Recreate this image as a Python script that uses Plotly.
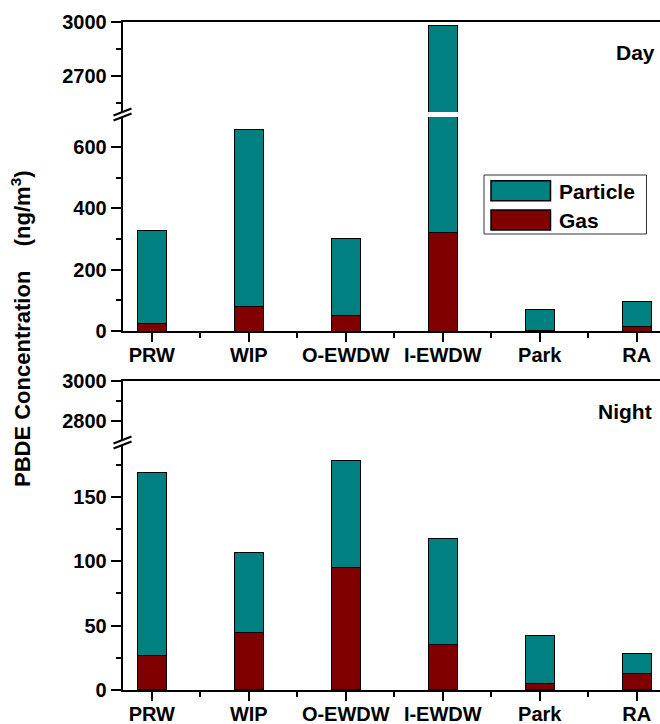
import plotly.graph_objects as go

categories = ["PRW", "WIP", "O-EWDW", "I-EWDW", "Park", "RA"]
day_gas = [23, 80, 49, 320, 2, 14]
day_total = [328, 656, 302, 2980, 69, 96]
night_gas = [27, 44.5, 95, 35.5, 5, 13]
night_total = [169, 107, 178, 118, 42, 28]

day_particle = [t - g for t, g in zip(day_total, day_gas)]
night_particle = [t - g for t, g in zip(night_total, night_gas)]
xi = list(range(len(categories)))

W, H = 660, 724
TEAL = "#008080"
MAROON = "#800000"
FONT = "Liberation Sans, Arial, sans-serif"


def px(x):
    return x / W


def py(y):
    return 1 - y / H


fig = go.Figure()

def add_pair(gas, part, xa, ya):
    fig.add_trace(go.Bar(x=xi, y=gas, xaxis=xa, yaxis=ya, width=0.3, name="Gas",
                         marker=dict(color=MAROON, line=dict(color="black", width=1)),
                         showlegend=False))
    fig.add_trace(go.Bar(x=xi, y=part, xaxis=xa, yaxis=ya, width=0.3, name="Particle",
                         marker=dict(color=TEAL, line=dict(color="black", width=1)),
                         showlegend=False))

add_pair(day_gas, day_particle, "x", "y2")
add_pair(day_gas, day_particle, "x3", "y")
add_pair(night_gas, night_particle, "x2", "y4")
add_pair(night_gas, night_particle, "x4", "y3")

xdom = [px(122.7), 1]
xrange = [-0.3, 5.24]
tickfont = dict(family=FONT, size=20, color="black", weight="bold")

xmain = dict(domain=xdom, range=xrange, tickmode="array", tickvals=xi, ticktext=categories,
             ticks="outside", ticklen=9, tickwidth=2, tickcolor="black", automargin=False,
             showline=True, linewidth=2, linecolor="black", showgrid=False, zeroline=False,
             tickfont=tickfont, ticklabelstandoff=-4,
             minor=dict(tick0=0.5, dtick=1, ticks="outside", ticklen=5, tickwidth=2, tickcolor="black"))
xtop = dict(domain=xdom, range=xrange, side="top", showline=True, linewidth=2, linecolor="black",
            showticklabels=False, ticks="", showgrid=False, zeroline=False, automargin=False)

def yax(dom, rng, dtick, mdtick, anchor):
    return dict(domain=[py(dom[1]), py(dom[0])], range=rng, dtick=dtick, tick0=0,
                ticks="outside", ticklen=10, tickwidth=2, tickcolor="black", automargin=False,
                showline=True, linewidth=2, linecolor="black", showgrid=False, zeroline=False,
                tickfont=tickfont, anchor=anchor,
                minor=dict(dtick=mdtick, tick0=0, ticks="outside", ticklen=5, tickwidth=2,
                           tickcolor="black"))

fig.update_layout(
    width=W, height=H, barmode="stack",
    margin=dict(l=0, r=0, t=0, b=0, pad=0),
    plot_bgcolor="white", paper_bgcolor="white",
    showlegend=False,
    xaxis=dict(xmain, anchor="y2"),
    xaxis2=dict(xmain, anchor="y4"),
    xaxis3=dict(xtop, anchor="y"),
    xaxis4=dict(xtop, anchor="y3"),
    yaxis=yax((22, 112), [2500, 3000], 300, 150, "x3"),
    yaxis2=yax((117, 331), [0, 698], 200, 100, "x"),
    yaxis3=yax((380.7, 439.7), [2705, 3000], 200, 100, "x4"),
    yaxis4=yax((445.3, 690), [0, 190], 50, 25, "x2"),
)

shapes = []
# axis break marks
for yc in (114.5, 442.5):
    for off in (-2.5, 2.5):
        shapes.append(dict(type="line", xref="paper", yref="paper",
                           x0=px(113.5), y0=py(yc + off + 3.5), x1=px(131.5), y1=py(yc + off - 3.5),
                           line=dict(color="black", width=2)))
# legend box and swatches
shapes.append(dict(type="rect", xref="paper", yref="paper", x0=px(484), x1=px(646.5),
                   y0=py(234), y1=py(175), line=dict(color="#333333", width=1), fillcolor="white"))
shapes.append(dict(type="rect", xref="paper", yref="paper", x0=px(491), x1=px(550.5),
                   y0=py(200.7), y1=py(180.7), line=dict(color="black", width=1.5), fillcolor=TEAL))
shapes.append(dict(type="rect", xref="paper", yref="paper", x0=px(491), x1=px(550.5),
                   y0=py(230), y1=py(210), line=dict(color="black", width=1.5), fillcolor=MAROON))
fig.update_layout(shapes=shapes)

lab = dict(family=FONT, size=21, color="black", weight="bold")
ann = [
    dict(text="Particle", x=px(557), y=py(191), xanchor="left", yanchor="middle"),
    dict(text="Gas", x=px(557), y=py(220.5), xanchor="left", yanchor="middle"),
    dict(text="Day", x=px(657), y=py(52), xanchor="right", yanchor="middle"),
    dict(text="Night", x=px(654), y=py(411), xanchor="right", yanchor="middle"),
]
for a in ann:
    fig.add_annotation(dict(a, xref="paper", yref="paper", showarrow=False, font=lab))
fig.add_annotation(text="PBDE Concentration\u00a0\u00a0\u00a0\u00a0(ng/m<sup>3</sup>)",
                   x=px(21), y=py(329), xref="paper", yref="paper", showarrow=False,
                   xanchor="center", yanchor="middle", textangle=-90,
                   font=dict(family=FONT, size=22, color="black", weight="bold"))

fig.write_html("out.html", config={"displayModeBar": False},
               post_script="document.body.style.margin='0';document.body.style.overflow='hidden';")
